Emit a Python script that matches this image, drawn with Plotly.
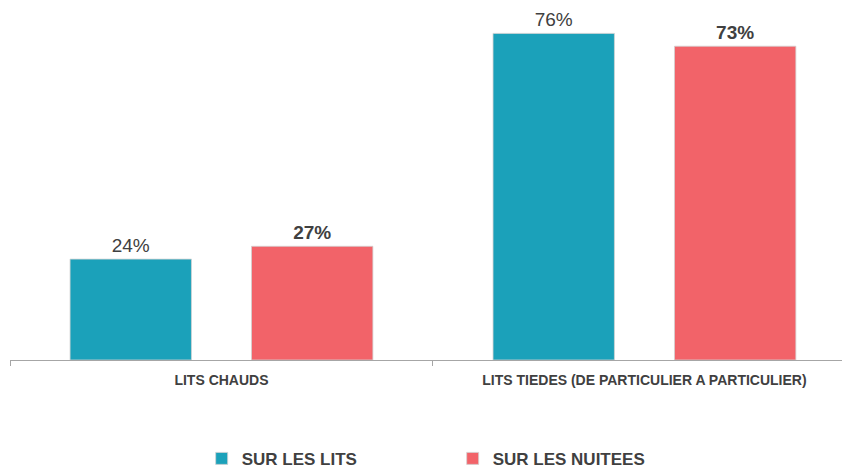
import plotly.graph_objects as go

categories = ["LITS CHAUDS", "LITS TIEDES (DE PARTICULIER A PARTICULIER)"]
series_names = ["SUR LES LITS", "SUR LES NUITEES"]
lits_values = [23.6, 76.4]
nuitees_values = [26.6, 73.4]
lits_labels = ["24%", "76%"]
nuitees_labels = ["27%", "73%"]

TEAL = "#1BA1BA"
RED = "#F26369"
TXT = "#404040"
FONT = "Liberation Sans, Arial, sans-serif"

fig = go.Figure()
fig.add_trace(go.Bar(
    x=categories, y=lits_values, name=series_names[0],
    marker=dict(color=TEAL, line=dict(color="rgba(210,210,210,0.8)", width=1)),
    text=lits_labels, textposition="outside", cliponaxis=False,
    textfont=dict(family=FONT, size=19, color=TXT),
))
fig.add_trace(go.Bar(
    x=categories, y=nuitees_values, name=series_names[1],
    marker=dict(color=RED, line=dict(color="rgba(210,210,210,0.8)", width=1)),
    text=nuitees_labels, textposition="outside", cliponaxis=False,
    textfont=dict(family=FONT, size=19, color=TXT, weight="bold"),
))

fig.update_layout(
    width=842, height=460,
    margin=dict(l=2, r=0, t=10, b=108, autoexpand=False),
    paper_bgcolor="white", plot_bgcolor="white",
    barmode="group", bargap=0.142, bargroupgap=0.331,
    font=dict(family=FONT, color=TXT),
    showlegend=True,
    legend=dict(
        orientation="h", x=0.527, xanchor="center", y=-0.289, yanchor="middle",
        font=dict(family=FONT, size=17, color=TXT, weight="bold"),
        entrywidth=206, itemwidth=30,
    ),
    xaxis=dict(
        range=[-0.5, 1.486], automargin=False,
        showline=True, linecolor="#A6A6A6", linewidth=1,
        ticks="outside", tickson="boundaries", ticklen=5, tickcolor="#A6A6A6",
        tickfont=dict(family=FONT, size=14, color=TXT, weight="bold"),
        ticklabelstandoff=7,
        showgrid=False,
    ),
    yaxis=dict(range=[0, 80], visible=False, showgrid=False, zeroline=False, automargin=False),
    uniformtext=dict(mode=False),
)

fig.write_html("out.html")
